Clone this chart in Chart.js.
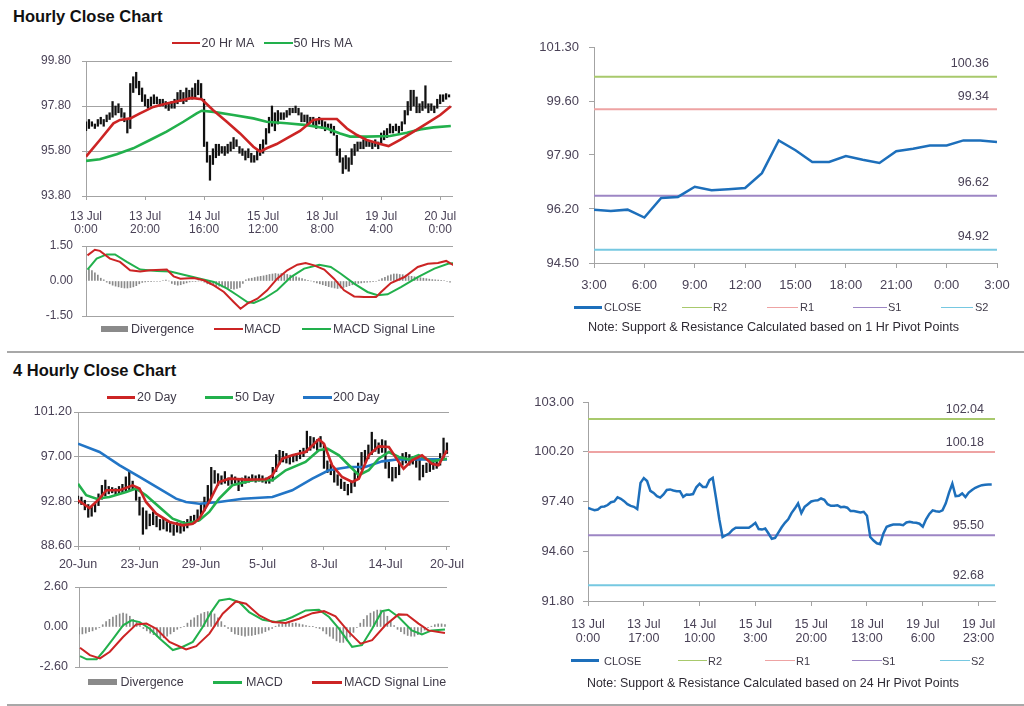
<!DOCTYPE html>
<html><head><meta charset="utf-8">
<script src="https://cdn.jsdelivr.net/npm/chart.js@4.4.0/dist/chart.umd.min.js"></script>
<style>
body{margin:0;background:#fff;width:1024px;height:706px;position:relative;overflow:hidden;font-family:"Liberation Sans",Arial,sans-serif;color:#404040}
canvas{position:absolute}
.t{position:absolute;font-weight:bold;font-size:16.5px;line-height:20px;color:#111;white-space:nowrap}
.lt{position:absolute;white-space:nowrap;color:#3f3a48}
.lm{position:absolute}
.sep{position:absolute;left:7px;width:1017px;height:2px;background:#a8a8a8}
</style></head><body>
<div class="t" style="left:13px;top:6px">Hourly Close Chart</div>
<div class="t" style="left:13px;top:360px">4 Hourly Close Chart</div>
<div class="sep" style="top:351px"></div>
<div class="sep" style="top:704px"></div>
<canvas id="c1"></canvas><canvas id="c2"></canvas><canvas id="c3"></canvas>
<canvas id="c4"></canvas><canvas id="c5"></canvas><canvas id="c6"></canvas>
<div id="legends"></div>
<script>
// ================= DATA =================
// --- Hourly close chart (top-left) ---
const hrTickLabels = [['13 Jul','0:00'],['13 Jul','20:00'],['14 Jul','16:00'],['15 Jul','12:00'],['18 Jul','8:00'],['19 Jul','4:00'],['20 Jul','0:00']];
const hrLow = [96.7,96.8,96.9,96.8,96.9,97.0,96.9,97.1,97.2,97.3, 97.4,97.5,97.3,97.1,96.6,96.8,98.4,98.6,98.3,98.0,
 97.8,97.7,97.8,97.9,97.9,97.8,97.8,97.7,97.6,97.7, 97.7,97.9,98.0,97.9,98.0,98.1,98.1,98.2,98.3,98.1,
 96.0,95.3,94.5,95.2,95.5,95.6,95.7,95.6,95.7,95.8, 95.9,96.0,95.7,95.6,95.4,95.5,95.3,95.3,95.4,95.6,
 95.7,96.1,96.6,96.9,96.7,97.0,97.2,97.2,97.3,97.4, 97.5,97.5,97.4,97.1,97.1,97.0,97.1,96.9,96.8,97.0,
 96.8,96.7,96.8,96.6,96.5,95.6,95.3,94.8,95.0,94.9, 95.2,95.6,95.8,95.9,95.9,96.0,96.0,95.9,96.0,95.9,
 96.1,96.3,96.4,96.6,96.6,96.7,96.6,96.7,97.0,97.4, 97.6,97.8,97.5,97.5,97.6,97.7,97.5,97.6,97.5,97.7,
 97.9,98.0,98.1,98.2];
const hrHigh = [97.1,97.2,97.1,97.0,97.2,97.3,97.2,97.4,97.5,98.0, 97.8,97.9,97.7,97.5,97.2,98.8,99.1,99.3,98.9,98.6,
 98.3,98.1,98.2,98.3,98.2,98.1,98.1,98.0,97.9,98.0, 98.1,98.4,98.5,98.4,98.6,98.5,98.6,98.8,98.95,98.8,
 98.1,96.2,95.6,95.9,96.1,96.1,96.0,96.0,96.1,96.2, 96.4,96.3,96.0,95.9,95.8,95.9,95.7,95.6,95.8,96.1,
 96.3,96.8,97.3,97.8,97.5,97.6,97.5,97.5,97.6,97.7, 97.7,97.8,97.7,97.5,97.4,97.4,97.3,97.3,97.2,97.3,
 97.2,97.1,97.0,97.0,96.9,96.5,95.9,95.5,95.6,95.5, 95.9,96.1,96.2,96.2,96.3,96.3,96.2,96.2,96.3,96.2,
 96.6,96.7,96.8,97.0,96.9,97.0,96.9,97.1,97.6,98.0, 98.5,98.5,98.2,97.9,98.0,98.7,97.9,97.9,97.8,98.1,
 98.3,98.3,98.35,98.3];
const hrMA20 = [[0,95.55],[4.7,96.29],[9.3,97.03],[11.5,97.18],[15,97.25],[18.3,97.47],[22.8,97.76],[27.3,97.91],[32.4,98.06],[35.8,98.16],[39.2,98.1],[43,97.62],[47.7,97.1],[52.2,96.58],[56.7,95.99],[59,95.77],[61.2,95.92],[64.6,96.11],[68,96.36],[72.5,96.69],[77,97.18],[79.3,97.22],[85,97.22],[88.4,96.8],[91.8,96.51],[95.1,96.29],[99.7,96.11],[102.5,96.02],[106.4,96.29],[111,96.66],[115.5,97.03],[120,97.4],[123.6,97.79]];
const hrMA50 = [[0,95.36],[4.7,95.43],[10.4,95.66],[16,95.92],[21.7,96.29],[27.3,96.66],[33,97.1],[37.5,97.47],[39.2,97.59],[43.2,97.54],[49.9,97.4],[56.7,97.25],[61.2,97.1],[68,97.03],[74.8,96.95],[81.6,96.8],[86.1,96.58],[89.5,96.44],[95.1,96.44],[103,96.47],[108.7,96.61],[113.2,96.76],[117.7,96.85],[123.6,96.91]];
const hrMacd = [[0.5,1.1],[3,1.34],[4.7,1.29],[8.1,0.96],[11.5,0.82],[14.9,0.46],[18.3,0.41],[21.7,0.46],[27.3,0.49],[29.6,0.2],[31.9,0.1],[36.4,0.13],[39.8,0.03],[43.2,-0.19],[46.6,-0.47],[49.9,-0.9],[52.2,-1.19],[54.5,-0.97],[57.9,-0.76],[61.2,-0.4],[64.6,0.1],[68,0.46],[71.4,0.7],[74.2,0.77],[77.1,0.67],[80.5,0.49],[83.8,0.1],[87.2,-0.4],[90.6,-0.66],[94,-0.69],[98,-0.69],[99.7,-0.47],[103,-0.09],[107.6,0.17],[112.1,0.6],[115.5,0.74],[118.9,0.77],[121.7,0.86],[124.3,0.67]];
const hrSignal = [[0.5,0.49],[3.6,0.96],[7,1.14],[9.8,1.14],[13.8,0.82],[18.3,0.49],[24,0.43],[28.5,0.41],[33,0.27],[38.6,0.1],[43.2,-0.04],[47.7,-0.33],[51.1,-0.61],[54.5,-0.9],[56.7,-0.94],[60.1,-0.76],[64.6,-0.4],[69.2,0.17],[73.7,0.53],[78.8,0.7],[82.7,0.6],[86.1,0.31],[90.6,-0.11],[95.1,-0.47],[98.5,-0.61],[101.9,-0.57],[106.4,-0.26],[112.1,0.17],[117.7,0.53],[122.3,0.74],[124.3,0.77]];
const hrDiv = [0.45,0.5,0.45,0.35,0.25,0.12,0.05,-0.05,-0.12,-0.18, -0.22,-0.25,-0.28,-0.3,-0.3,-0.28,-0.25,-0.2,-0.12,-0.06,
 -0.04,-0.03,-0.03,-0.02,-0.02,-0.02,0.02,0.04,0.0,-0.1, -0.15,-0.18,-0.16,-0.12,-0.08,-0.04,-0.02,-0.02,0.0,0.0,
 -0.05,-0.12,-0.15,-0.18,-0.2,-0.22,-0.25,-0.28,-0.3,-0.33, -0.35,-0.32,-0.28,-0.1,0.05,0.1,0.12,0.15,0.18,0.2,
 0.22,0.25,0.28,0.3,0.32,0.3,0.32,0.3,0.28,0.25, 0.22,0.18,0.14,0.1,0.06,0.03,0.0,-0.04,-0.08,-0.12,
 -0.16,-0.2,-0.24,-0.27,-0.3,-0.32,-0.3,-0.28,-0.24,-0.2, -0.16,-0.12,-0.1,-0.08,-0.06,-0.05,-0.04,-0.03,-0.02,0.04,
 0.1,0.16,0.22,0.26,0.3,0.3,0.28,0.27,0.25,0.22, 0.2,0.18,0.16,0.14,0.12,0.1,0.08,0.06,0.05,0.04,
 0.03,0.02,-0.02,-0.05];
const hrYTicks = [93.8,95.8,97.8,99.8];
const hrMacdTicks = [-1.5,0,1.5];

// --- 1 Hr pivot chart (top-right) ---
const pvHourLabels = ['3:00','4:00','5:00','6:00','7:00','8:00','9:00','10:00','11:00','12:00','13:00','14:00','15:00','16:00','17:00','18:00','19:00','20:00','21:00','22:00','23:00','0:00','1:00','2:00','3:00'];
const pvClose = [96.18,96.14,96.18,95.93,96.55,96.58,96.90,96.79,96.82,96.86,97.33,98.36,98.05,97.68,97.68,97.87,97.75,97.65,98.02,98.10,98.20,98.20,98.36,98.36,98.31];
const pivotNames = ['R2','R1','S1','S2'];
const pivot1Hr = [100.36,99.34,96.62,94.92];
const pvYTicks = [94.5,96.2,97.9,99.6,101.3];

// --- 4 Hourly close chart (bottom-left) ---
const h4TickLabels = ['20-Jun','23-Jun','29-Jun','5-Jul','8-Jul','14-Jul','20-Jul'];
const h4Low = [92.6,92.5,92.0,91.3,91.4,91.8,92.4,93.0,93.3,93.5, 93.6,93.4,93.5,93.6,93.8,93.9,93.9,92.9,91.5,89.7,
 90.2,90.5,90.6,90.4,90.1,90.2,90.0,89.9,89.6,89.9, 89.8,90.0,90.3,90.6,90.7,90.9,91.5,91.9,92.5,93.2,
 94.5,94.3,94.4,94.5,94.3,94.4,94.5,93.8,94.2,94.5, 94.6,94.7,94.6,94.7,94.6,94.5,94.5,94.7,95.6,96.3,
 96.5,96.4,96.3,96.5,96.6,96.8,97.0,97.4,97.6,97.8, 97.6,97.9,95.9,95.5,95.3,94.6,94.3,94.0,93.8,93.4,
 93.6,94.2,95.0,95.8,96.4,96.8,97.2,97.5,97.3,97.4, 95.9,95.0,94.7,95.0,95.3,96.2,96.4,96.2,96.3,96.0,
 94.8,95.1,95.5,95.6,95.8,95.9,96.2,96.8,97.3];
const h4High = [93.3,93.2,92.9,92.5,92.3,92.7,93.5,94.3,94.8,94.2, 94.1,94.0,94.2,94.4,95.1,95.6,94.7,94.1,93.2,92.2,
 91.9,91.6,91.8,91.4,91.1,91.2,90.9,90.9,90.6,90.8, 90.7,90.9,91.1,91.4,91.5,92.0,92.6,93.2,94.3,96.0,
 95.7,95.4,95.2,95.6,95.0,95.3,95.1,94.8,95.0,95.2, 95.1,95.3,95.2,95.3,95.2,95.0,95.1,96.0,97.2,97.6,
 97.5,97.3,97.0,97.2,97.3,97.6,97.8,99.4,98.9,98.8, 98.6,98.9,98.2,96.6,96.3,95.8,95.3,94.9,94.6,94.4,
 94.7,95.5,96.4,97.4,97.6,98.1,99.3,98.6,98.3,98.6, 98.5,96.5,96.0,96.0,96.5,97.3,97.4,97.2,97.0,96.9,
 96.7,96.2,96.4,96.5,96.6,96.8,97.3,98.75,98.3];
const h4MA20 = [[0,92.9],[3.4,92.17],[6.3,93.05],[8.3,93.84],[12.2,93.84],[16,94.3],[18,94.0],[19.9,92.74],[22.9,91.64],[26.8,90.86],[30.6,90.54],[33.6,90.7],[35.5,91.17],[38.4,92.74],[41.3,94.62],[44.3,94.93],[49.1,94.84],[55,94.87],[56.9,95.25],[59.8,96.81],[62.7,97.13],[66.6,97.44],[70.5,98.63],[72,98.22],[74.4,96.19],[77.3,95.09],[80.3,94.62],[82.2,94.93],[85.1,97.13],[88,97.97],[91,97.91],[93.9,96.5],[95.3,95.87],[97.8,96.66],[100.7,97.13],[103.6,96.34],[105.5,96.19],[108,97.6]];
const h4MA50 = [[0,94.46],[2.4,93.37],[5.4,93.05],[9.2,93.21],[14.1,93.68],[17,94.0],[19.9,93.37],[23.8,92.27],[27.7,91.17],[31.6,90.7],[35.5,91.01],[38.4,91.8],[41.3,93.05],[45.2,94.31],[51.1,94.78],[56.9,94.78],[60.8,95.72],[66.6,96.5],[70.5,97.6],[73,97.75],[76.4,97.13],[79.3,96.19],[82.2,95.25],[85.1,95.72],[88,96.81],[91,97.44],[93.9,96.97],[96.8,96.75],[99.7,97.13],[103.6,96.56],[108,96.81]];
const h4MA200 = [[0,98.22],[6.3,97.44],[12.2,96.19],[18,95.09],[23.8,93.99],[28.7,93.05],[31.6,92.74],[35.5,92.58],[41.3,92.74],[48.2,93.05],[56.9,93.21],[62.7,93.84],[68.6,94.93],[73.4,95.72],[79.3,96.03],[84.1,96.03],[89,96.56],[93.9,96.75],[99.7,96.75],[108,96.75]];
const h4Macd = [[0.3,-1.89],[2.3,-2.1],[5.2,-2.1],[7.1,-1.61],[10.1,-0.75],[13,0.11],[15.5,0.43],[17.9,0.32],[20.9,-0.11],[23.8,-0.75],[27.7,-1.5],[30.2,-1.33],[33.6,-0.97],[36.5,0],[39,0.97],[41.4,1.72],[44.4,1.83],[47.3,1.61],[50.2,0.97],[54.2,0.47],[58.1,0.32],[61,0.47],[63,0.65],[66.9,1.08],[70.8,1.12],[73.8,0.65],[76.7,-0.11],[80.6,-1.29],[83.5,-1.18],[86.5,-0.11],[89.4,1.03],[91.4,1.12],[94.3,0.65],[98.2,-0.22],[101.2,-0.49],[104.1,-0.22],[108,-0.17]];
const h4Signal = [[0.3,-1.35],[3.2,-1.83],[6.2,-2.04],[9.1,-1.61],[13,-0.65],[16.9,0.17],[19.9,0.22],[22.8,-0.11],[26.7,-0.97],[31.6,-1.46],[34.6,-1.25],[38.5,-0.43],[42.4,0.86],[46.3,1.66],[49.3,1.51],[53.2,0.75],[57.1,0.32],[61,0.26],[64.9,0.54],[68.9,0.9],[72.3,1.03],[75.7,0.69],[79.6,-0.32],[83.1,-1.08],[86.5,-0.86],[90.4,0.11],[94.3,0.82],[96.8,0.8],[100.2,0.22],[103.1,-0.22],[108,-0.39]];
const h4Div = [-0.45,-0.45,-0.4,-0.3,-0.25,-0.15,-0.05,0.15,0.35,0.5, 0.65,0.75,0.85,0.9,0.85,0.7,0.5,0.3,0.1,-0.1,
 -0.25,-0.4,-0.5,-0.6,-0.7,-0.7,-0.6,-0.45,-0.3,-0.15, -0.05,0.05,0.25,0.45,0.6,0.75,0.85,0.95,1.0,1.0,
 0.85,0.6,0.35,0.1,-0.1,-0.3,-0.45,-0.5,-0.55,-0.6, -0.55,-0.55,-0.5,-0.45,-0.4,-0.3,-0.2,-0.1,0.05,0.15,
 0.2,0.25,0.3,0.25,0.25,0.2,0.15,0.1,0.05,0.02, -0.05,-0.1,-0.25,-0.45,-0.6,-0.75,-0.9,-1.0,-1.0,-0.9,
 -0.65,-0.35,-0.05,0.25,0.5,0.75,0.9,1.0,1.1,1.1, 0.95,0.7,0.4,0.1,-0.15,-0.3,-0.45,-0.55,-0.6,-0.6,
 -0.5,-0.35,-0.2,-0.05,0.05,0.15,0.2,0.2,0.15];
const h4YTicks = [88.6,92.8,97.0,101.2];
const h4MacdTicks = [-2.6,0,2.6];

// --- 24 Hr pivot chart (bottom-right) ---
const p24TickLabels = [['13 Jul','0:00'],['13 Jul','17:00'],['14 Jul','10:00'],['15 Jul','3:00'],['15 Jul','20:00'],['18 Jul','13:00'],['19 Jul','6:00'],['19 Jul','23:00']];
const p24Close = [97.04,96.97,96.91,96.95,97.1,97.12,97.2,97.36,97.4,97.64, 97.55,97.42,97.25,97.15,97.1,96.97,98.45,98.72,98.55,98.0,
 97.88,97.7,97.62,97.8,98.05,98.08,98.02,97.98,97.98,97.66, 97.79,97.78,97.82,98.2,98.4,98.22,98.22,98.6,98.73,97.6,
 96.4,95.4,95.5,95.6,95.8,95.92,95.92,95.92,95.92,95.92, 96.05,96.2,95.85,95.82,95.88,95.6,95.3,95.35,95.65,95.95,
 96.2,96.4,96.75,97.0,97.29,96.75,97.1,97.25,97.4,97.45, 97.47,97.57,97.5,97.25,97.16,97.16,97.19,97.08,97.1,97.05,
 96.86,96.86,96.82,96.78,96.82,96.6,95.4,95.2,95.05,95.0, 95.6,95.98,96.05,96.1,96.11,96.1,96.07,96.22,96.26,96.22,
 96.2,96.15,95.98,96.4,96.7,96.9,96.85,96.82,96.9,97.3, 97.9,98.4,97.7,97.72,97.85,97.65,97.9,98.05,98.17,98.25,
 98.32,98.34,98.35,98.35];
const pivot24Hr = [102.04,100.18,95.50,92.68];
const p24YTicks = [91.8,94.6,97.4,100.2,103.0];

// ================= STYLE =================
const FONT = "'Liberation Sans', Arial, sans-serif";
const TXT = '#4a4257';
const AX = '#a3a3a3';
const RED = '#cc2424', GREEN = '#22b04c', BLUE = '#2275c6', CLOSE_C = '#1d6fbb';
const PIV_C = ['#a8c96c','#eea3a3','#9d86c4','#76c8e1'];
const DIV_C = '#8a8a8a';

function place(id, L, T, R, B, o) {
  const c = document.getElementById(id);
  const W = R - L + o.wy + o.pr, H = B - T + o.pt + o.hx;
  c.width = W; c.height = H;
  c.style.left = (L - o.wy) + 'px'; c.style.top = (T - o.pt) + 'px';
  c.style.width = W + 'px'; c.style.height = H + 'px';
  return c;
}
function opts(o) {
  return {
    responsive:false, animation:false, devicePixelRatio:1,
    layout:{padding:{top:o.pt, right:o.pr, left:0, bottom:0}},
    plugins:{legend:{display:false}, tooltip:{enabled:false}, pivotLabels:o.piv || {values:[]}},
    elements:{point:{radius:0}, line:{tension:0}},
    scales:{
      x:{type:'linear', min:o.xmin, max:o.xmax, offset:false,
        afterBuildTicks:s=>{s.ticks=o.xticks.map(v=>({value:v}));},
        afterFit:s=>{s.height=o.hx;},
        grid:{display:true, drawOnChartArea:false, drawTicks:o.xtl>0, tickLength:o.xtl||0, color:AX, offset:false},
        border:{display:true, color:AX, width:1},
        ticks:{display:!!o.xlab, autoSkip:false, maxRotation:0, minRotation:0, padding:o.xpad||0, color:TXT,
          font:{family:FONT, size:o.xfs||12, lineHeight:o.xlh||1.1}, callback:(v,i)=>o.xlab?o.xlab(v,i):''}
      },
      y:{type:'linear', min:o.ymin, max:o.ymax,
        afterBuildTicks:s=>{s.ticks=o.yticks.map(v=>({value:v}));},
        afterFit:s=>{s.width=o.wy;},
        grid:{display:true, drawOnChartArea:!!o.ygrid, drawTicks:true, tickLength:o.ytl, color:o.gridColor||AX},
        border:{display:true, color:AX, width:1},
        ticks:{padding:o.ypad, color:TXT, font:{family:FONT, size:o.yfs||12}, callback:v=>v.toFixed(2)}
      }
    }
  };
}
const pivotLabelPlugin = {
  id:'pivotLabels',
  afterDatasetsDraw(chart, args, po) {
    if (!po || !po.values || !po.values.length) return;
    const {ctx, chartArea, scales:{y}} = chart;
    ctx.save();
    ctx.font = po.size + 'px ' + FONT; ctx.fillStyle = TXT;
    ctx.textAlign = 'right'; ctx.textBaseline = 'middle';
    po.values.forEach(v => ctx.fillText(v.toFixed(2), chartArea.right - po.inset, y.getPixelForValue(v) - po.dy));
    ctx.restore();
  }
};
const pts = arr => arr.map(([x,y]) => ({x, y}));
const ohlc = (lo, hi) => lo.map((l,i) => ({x:i, y:[l, hi[i]]}));
const bars = arr => arr.map((v,i) => ({x:i, y:v}));
const lineDs = (data, color, w, order) => ({type:'line', data, borderColor:color, borderWidth:w, pointRadius:0, fill:false, order});

// ---- Chart 1: hourly price ----
{
  const o = {wy:50, pr:30, pt:30, hx:45, xmin:0, xmax:124, xticks:hrTickLabels.map((_,i)=>i*20),
    xlab:(v,i)=>hrTickLabels[i], xtl:4, xpad:10, xfs:12, ymin:93.8, ymax:99.8, yticks:hrYTicks, ygrid:true, ytl:4, ypad:11, yfs:12};
  new Chart(place('c1', 86, 61, 452, 196, o), {type:'line', data:{datasets:[
    lineDs(pts(hrMA20), RED, 2.6, 1),
    lineDs(pts(hrMA50), GREEN, 2.6, 2),
    {type:'bar', data:ohlc(hrLow, hrHigh), backgroundColor:'#111', barThickness:1.6, order:5}
  ]}, options:opts(o)});
}
// ---- Chart 2: hourly MACD ----
{
  const o = {wy:50, pr:30, pt:30, hx:30, xmin:0, xmax:124, xticks:[], xtl:0, ymin:-1.5, ymax:1.5, yticks:hrMacdTicks,
    ygrid:true, ytl:4, ypad:9, yfs:12, gridColor:c=>(c.tick && c.tick.value===0)?'rgba(0,0,0,0)':AX};
  new Chart(place('c2', 86, 246, 453, 316, o), {type:'line', data:{datasets:[
    lineDs(pts(hrMacd), RED, 2, 1),
    lineDs(pts(hrSignal), GREEN, 2, 2),
    {type:'bar', data:bars(hrDiv), backgroundColor:DIV_C, barThickness:1, order:5}
  ]}, options:opts(o)});
}
// ---- Chart 3: 1 Hr pivot ----
{
  const o = {wy:62, pr:30, pt:30, hx:45, xmin:0, xmax:24, xticks:[0,3,6,9,12,15,18,21,24],
    xlab:(v)=>pvHourLabels[v], xtl:5, xpad:10, xfs:13, ymin:94.5, ymax:101.3, yticks:pvYTicks, ygrid:false, ytl:5, ypad:10, yfs:13,
    piv:{values:pivot1Hr, inset:8, dy:13, size:12.5}};
  new Chart(place('c3', 594, 47, 997, 263, o), {type:'line', data:{datasets:[
    lineDs(bars(pvClose), CLOSE_C, 2.5, 1),
    ...pivot1Hr.map((v,k)=>lineDs([{x:0,y:v},{x:24,y:v}], PIV_C[k], 2, 2+k))
  ]}, options:opts(o), plugins:[pivotLabelPlugin]});
}
// ---- Chart 4: 4-hourly price ----
{
  const o = {wy:50, pr:30, pt:30, hx:40, xmin:0, xmax:108.6, xticks:h4TickLabels.map((_,i)=>i*18),
    xlab:(v,i)=>h4TickLabels[i], xtl:4, xpad:8, xfs:12.5, ymin:88.6, ymax:101.2, yticks:h4YTicks, ygrid:true, ytl:4, ypad:2, yfs:12.5};
  new Chart(place('c4', 78, 412, 449, 546, o), {type:'line', data:{datasets:[
    lineDs(pts(h4MA20), RED, 2.6, 1),
    lineDs(pts(h4MA50), GREEN, 2.6, 2),
    lineDs(pts(h4MA200), BLUE, 2.6, 3),
    {type:'bar', data:ohlc(h4Low, h4High), backgroundColor:'#111', barThickness:1.6, order:5}
  ]}, options:opts(o)});
}
// ---- Chart 5: 4-hourly MACD ----
{
  const o = {wy:50, pr:30, pt:30, hx:30, xmin:0, xmax:108.6, xticks:[], xtl:0, ymin:-2.6, ymax:2.6, yticks:h4MacdTicks,
    ygrid:true, ytl:4, ypad:7, yfs:12.5, gridColor:c=>(c.tick && c.tick.value===0)?'rgba(0,0,0,0)':AX};
  new Chart(place('c5', 79, 587, 447, 667, o), {type:'line', data:{datasets:[
    lineDs(pts(h4Signal), RED, 2, 1),
    lineDs(pts(h4Macd), GREEN, 2, 2),
    {type:'bar', data:bars(h4Div), backgroundColor:DIV_C, barThickness:1, order:5}
  ]}, options:opts(o)});
}
// ---- Chart 6: 24 Hr pivot ----
{
  const o = {wy:62, pr:30, pt:30, hx:50, xmin:0, xmax:124, xticks:p24TickLabels.map((_,i)=>i*17),
    xlab:(v,i)=>p24TickLabels[i], xtl:5, xpad:11, xfs:12.5, xlh:1.14, ymin:91.8, ymax:103, yticks:p24YTicks, ygrid:false, ytl:5, ypad:9, yfs:13,
    piv:{values:pivot24Hr, inset:11, dy:9.5, size:12.5}};
  new Chart(place('c6', 588, 402, 995, 601, o), {type:'line', data:{datasets:[
    lineDs(bars(p24Close), CLOSE_C, 2.5, 1),
    ...pivot24Hr.map((v,k)=>lineDs([{x:0,y:v},{x:124,y:v}], PIV_C[k], 2, 2+k))
  ]}, options:opts(o), plugins:[pivotLabelPlugin]});
}

// ================= LEGENDS (HTML text) =================
const LG = document.getElementById('legends');
function legend(yc, fs, items) {
  items.forEach(it => {
    const m = document.createElement('div'); m.className = 'lm';
    const h = it.box ? 6 : (it.h || 2.5);
    m.style.cssText = `left:${it.x1}px;top:${yc - h/2}px;width:${it.x2 - it.x1}px;height:${h}px;background:${it.c}`;
    LG.appendChild(m);
    const t = document.createElement('div'); t.className = 'lt';
    t.style.cssText = `left:${it.tx}px;top:${yc - 8}px;line-height:16px;font-size:${fs}px`;
    t.textContent = it.t; LG.appendChild(t);
  });
}
function note(x, yc, fs, text) {
  const t = document.createElement('div'); t.className = 'lt';
  t.style.cssText = `left:${x}px;top:${yc - 8}px;line-height:16px;font-size:${fs}px;color:#2e2a33`;
  t.textContent = text; LG.appendChild(t);
}
legend(43, 12.5, [{t:'20 Hr MA', c:RED, x1:172, x2:200, tx:201.5}, {t:'50 Hrs MA', c:GREEN, x1:264, x2:293, tx:293.5}]);
legend(329, 12.5, [{t:'Divergence', c:DIV_C, box:true, x1:101, x2:128, tx:131}, {t:'MACD', c:RED, x1:214, x2:243, tx:244}, {t:'MACD Signal Line', c:GREEN, x1:302, x2:331, tx:333}]);
legend(307.3, 11, [{t:'CLOSE', c:CLOSE_C, x1:574, x2:602, tx:604}].concat(pivotNames.map((n,k)=>({t:n, c:PIV_C[k], h:1.5, x1:[682,767,853,941][k], x2:[712,798,887,973][k], tx:[713,800,888,975][k]}))));
note(588, 326.7, 12.6, 'Note: Support & Resistance Calculated based on 1 Hr Pivot Points');
legend(397.3, 12.5, [{t:'20 Day', c:RED, x1:107, x2:135, tx:137}, {t:'50 Day', c:GREEN, x1:205, x2:233, tx:235}, {t:'200 Day', c:BLUE, x1:303, x2:332, tx:333}]);
legend(682.3, 12.5, [{t:'Divergence', c:DIV_C, box:true, x1:88, x2:117, tx:120.5}, {t:'MACD', c:GREEN, x1:213, x2:242, tx:246}, {t:'MACD Signal Line', c:RED, x1:312, x2:342, tx:344}]);
legend(660.7, 11, [{t:'CLOSE', c:CLOSE_C, x1:571, x2:599, tx:604}].concat(pivotNames.map((n,k)=>({t:n, c:PIV_C[k], h:1.5, x1:[678,765,852,940][k], x2:[707,795,882,970][k], tx:[708,796,882,971][k]}))));
note(587, 682.7, 12.4, 'Note:  Support & Resistance Calculated based on 24 Hr Pivot Points');
</script>
</body></html>
